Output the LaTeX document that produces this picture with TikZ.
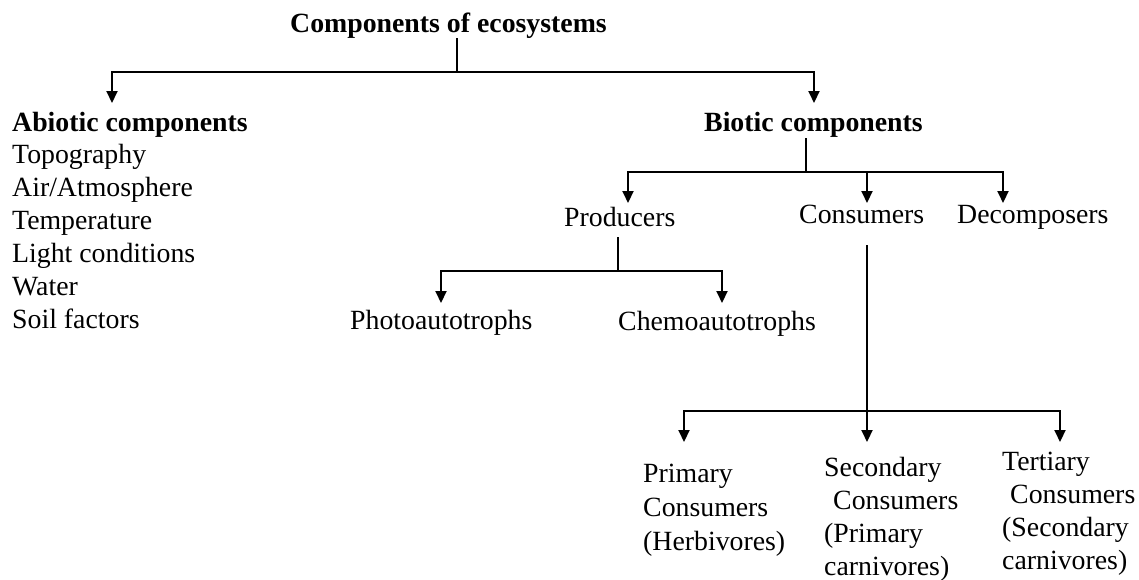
\documentclass[tikz,border=0pt]{standalone}
\usepackage{fontspec}
\setmainfont{Liberation Serif}
\usetikzlibrary{arrows.meta}
\begin{document}
\begin{tikzpicture}[x=1pt,y=-1pt,
  lbl/.style={anchor=base west, inner sep=0pt, font=\fontsize{27.8}{33}\selectfont},
  hd/.style={anchor=base west, inner sep=0pt, font=\fontsize{27.8}{33}\selectfont\bfseries},
  ln/.style={line width=2pt},
  arr/.style={line width=2pt, -{Triangle[width=11pt,length=12pt]}}]
\useasboundingbox (0,0) rectangle (1139,579);
\fill[white] (0,0) rectangle (1139,579);

% texts
\node[hd] (title) at (290,32) {Components of ecosystems};
\node[hd] (abiotic) at (12,131) {Abiotic components};
\node[lbl] (topo) at (12,163) {Topography};
\node[lbl] (air) at (12,196) {Air/Atmosphere};
\node[lbl] (temp) at (12,229) {Temperature};
\node[lbl] (light) at (12,262) {Light conditions};
\node[lbl] (water) at (12,295) {Water};
\node[lbl] (soil) at (12,328) {Soil factors};

\node[hd] (biotic) at (704,131) {Biotic components};
\node[lbl] (prod) at (564,226) {Producers};
\node[lbl] (cons) at (799,223) {Consumers};
\node[lbl] (decomp) at (957,223) {Decomposers};
\node[lbl] (photo) at (350,329) {Photoautotrophs};
\node[lbl] (chemo) at (618,330) {Chemoautotrophs};

\node[lbl] (pc1) at (643,482) {Primary};
\node[lbl] (pc2) at (643,516) {Consumers};
\node[lbl] (pc3) at (643,550) {(Herbivores)};

\node[lbl] (sc1) at (824,476) {Secondary};
\node[lbl] (sc2) at (833,509) {Consumers};
\node[lbl] (sc3) at (824,542) {(Primary};
\node[lbl] (sc4) at (824,575) {carnivores)};

\node[lbl] (tc1) at (1002,470) {Tertiary};
\node[lbl] (tc2) at (1010,503) {Consumers};
\node[lbl] (tc3) at (1002,536) {(Secondary};
\node[lbl] (tc4) at (1002,569) {carnivores)};

% connector points
\coordinate (r0) at (457,38);
\coordinate (r1) at (457,72);
\coordinate (abT) at (112,103);
\coordinate (biT) at (814,103);

\coordinate (b0) at (806,138);
\coordinate (b1) at (806,172);
\coordinate (prT) at (628,203);
\coordinate (coJ) at (867,172);
\coordinate (coT) at (867,203);
\coordinate (deT) at (1003,203);

\coordinate (p0) at (618,237);
\coordinate (p1) at (618,271);
\coordinate (phT) at (441,303);
\coordinate (chT) at (722,303);

\coordinate (c0) at (867,245);
\coordinate (c1) at (867,411);
\coordinate (c2T) at (867,442);
\coordinate (c1T) at (684,442);
\coordinate (c3T) at (1060,442);

% connectors
\draw[ln] (r0) -- (r1);
\draw[arr] (r1) -| (abT);
\draw[arr] (r1) -| (biT);

\draw[ln] (b0) -- (b1);
\draw[arr] (b1) -| (prT);
\draw[arr] (b1) -| (deT);
\draw[arr] (coJ) -- (coT);

\draw[ln] (p0) -- (p1);
\draw[arr] (p1) -| (phT);
\draw[arr] (p1) -| (chT);

\draw[arr] (c0) -- (c2T);
\draw[arr] (c1) -| (c1T);
\draw[arr] (c1) -| (c3T);
\end{tikzpicture}
\end{document}
